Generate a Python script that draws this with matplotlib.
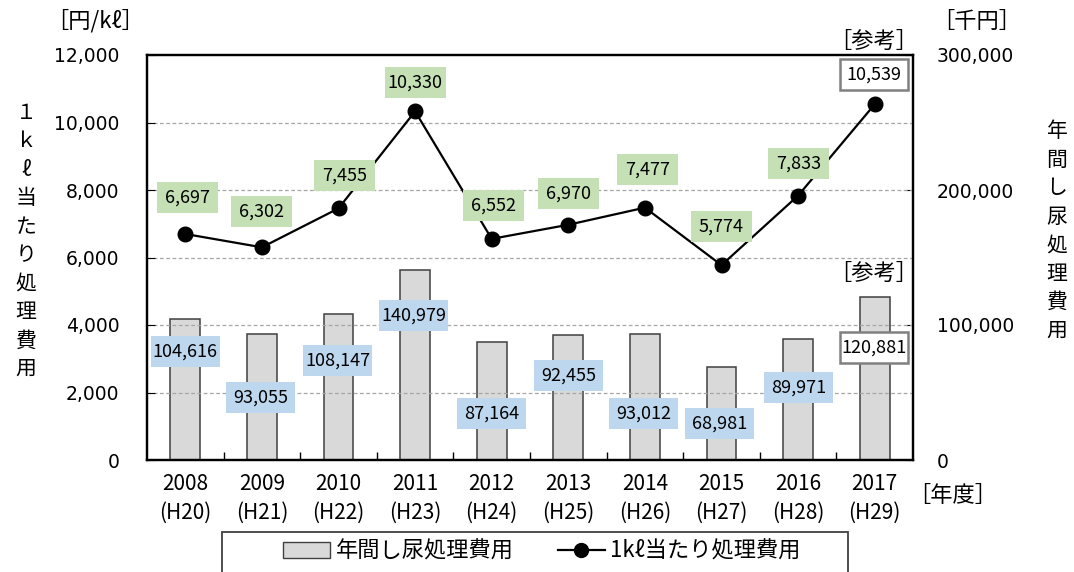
import matplotlib
matplotlib.use("Agg")
import matplotlib.pyplot as plt
from matplotlib.patches import Patch, Rectangle
from matplotlib.lines import Line2D

plt.rcParams['font.family'] = ['Noto Sans CJK JP', 'DejaVu Sans']

years = ['2008\n(H20)', '2009\n(H21)', '2010\n(H22)', '2011\n(H23)', '2012\n(H24)',
         '2013\n(H25)', '2014\n(H26)', '2015\n(H27)', '2016\n(H28)', '2017\n(H29)']
annual_cost = [104616, 93055, 108147, 140979, 87164, 92455, 93012, 68981, 89971, 120881]
cost_per_kl = [6697, 6302, 7455, 10330, 6552, 6970, 7477, 5774, 7833, 10539]

# label centres: (x offset from category, y on the left axis)
line_lbl_pos = [(0.035, 7780), (0.0, 7360), (0.08, 8440), (0.0, 11185), (0.02, 7540),
                (0.0, 7900), (0.04, 8610), (0.0, 6920), (0.01, 8785), (-0.01, 11420)]
bar_lbl_pos = [(0.0, 3215), (-0.02, 1850), (-0.01, 2950), (-0.02, 4280), (0.0, 1380),
               (0.0, 2505), (-0.02, 1380), (-0.02, 1080), (0.01, 2135), (-0.01, 3320)]

GREEN = '#c5e0b4'
BLUE = '#bdd7ee'

fig = plt.figure(figsize=(10.74, 5.72), dpi=100)
ax = fig.add_axes([147/1074, 1-460/572, 766/1074, 405/572])
ax2 = ax.twinx()

x = list(range(len(years)))
ax2.bar(x, annual_cost, width=0.39, color='#d9d9d9', edgecolor='#404040', linewidth=1.1, zorder=2)
ax2.set_ylim(0, 300000)
ax2.set_yticks([0, 100000, 200000, 300000])
ax2.set_yticklabels([f'{v:,}' for v in [0, 100000, 200000, 300000]])

ax.set_zorder(ax2.get_zorder() + 1)
ax.patch.set_visible(False)
ax.plot(x, cost_per_kl, color='black', linewidth=1.6, marker='o', markersize=10.5, zorder=3)
ax.set_ylim(0, 12000)
ax.set_xlim(-0.5, len(years) - 0.5)
ax.set_yticks(range(0, 12001, 2000))
ax.set_yticklabels([f'{v:,}' for v in range(0, 12001, 2000)])
for v in range(2000, 12000, 2000):
    ax.axhline(v, color='#a6a6a6', linestyle=(0, (3, 2)), linewidth=0.9, zorder=0)

ax.set_xticks([i + 0.5 for i in range(len(years) - 1)])
ax.set_xticklabels([])
ax.tick_params(axis='x', direction='in', length=6, width=1)
ax.set_xticks(x, minor=True)
ax.set_xticklabels(years, minor=True, fontsize=15, linespacing=1.42)
ax.tick_params(axis='x', which='minor', length=0, pad=9)
ax.tick_params(axis='y', direction='in', length=6, labelsize=13.5, pad=20,
               labelfontfamily='DejaVu Sans')
ax2.tick_params(axis='y', direction='in', length=6, labelsize=13.5, pad=17,
                labelfontfamily='DejaVu Sans')
for sp in list(ax.spines.values()) + list(ax2.spines.values()):
    sp.set_linewidth(1.6)

# value boxes: fixed size in data units (about 61 x 31 px / 69 x 31 px)
px_x = 1 / 76.6
px_y = 12000 / 405


def value_box(cx, cy, text, fc, ec, w_px):
    w, h = w_px * px_x, 31 * px_y
    ax.add_patch(Rectangle((cx - w / 2, cy - h / 2), w, h, facecolor=fc, edgecolor=ec,
                           linewidth=1.8 if ec != 'none' else 0, zorder=5))
    ax.text(cx, cy, text, ha='center', va='center', fontsize=13, zorder=6)


last = len(years) - 1
for i, (v, (dx, yy)) in enumerate(zip(cost_per_kl, line_lbl_pos)):
    if i == last:
        value_box(i + dx, yy, f'{v:,}', 'white', '#808080', 68)
    else:
        value_box(i + dx, yy, f'{v:,}', GREEN, 'none', 61)

for i, (v, (dx, yy)) in enumerate(zip(annual_cost, bar_lbl_pos)):
    if i == last:
        value_box(i + dx, yy, f'{v:,}', 'white', '#808080', 68)
    else:
        value_box(i + dx, yy, f'{v:,}', BLUE, 'none', 69)

ax.text(last - 0.02, 12400, '［参考］', ha='center', va='center', fontsize=16, zorder=5)
ax.text(last - 0.02, 5540, '［参考］', ha='center', va='center', fontsize=16, zorder=5)

fig.text(95/1074, 1-21/572, '［円/kℓ］', ha='center', va='center', fontsize=16)
fig.text(977/1074, 1-21/572, '［千円］', ha='center', va='center', fontsize=16)
fig.text(953/1074, 1-495/572, '［年度］', ha='center', va='center', fontsize=16)
fig.text(26/1074, 1-241/572, '１\nｋ\nℓ\n当\nた\nり\n処\n理\n費\n用', ha='center', va='center',
         fontsize=15, linespacing=1.38)
fig.text(1057/1074, 1-231/572, '年\n間\nし\n尿\n処\n理\n費\n用', ha='center', va='center',
         fontsize=15, linespacing=1.38)

# legend along the bottom edge, frame drawn separately
handles = [Patch(facecolor='#d9d9d9', edgecolor='#404040', linewidth=1.0),
           Line2D([], [], color='black', linewidth=1.6, marker='o', markersize=10)]
leg = fig.legend(handles, ['年間し尿処理費用', '1kℓ当たり処理費用'], loc='center',
                 bbox_to_anchor=(542/1074, 1-551/572), ncol=2, fontsize=16, frameon=False,
                 handlelength=2.1, handleheight=0.7, columnspacing=2.0, handletextpad=0.25,
                 borderpad=0.0)
fig.add_artist(Rectangle((222/1074, 1-576/572), 626/1074, 44/572, transform=fig.transFigure,
                         facecolor='none', edgecolor='#404040', linewidth=1.3))

fig.savefig('out.png', dpi=100)
